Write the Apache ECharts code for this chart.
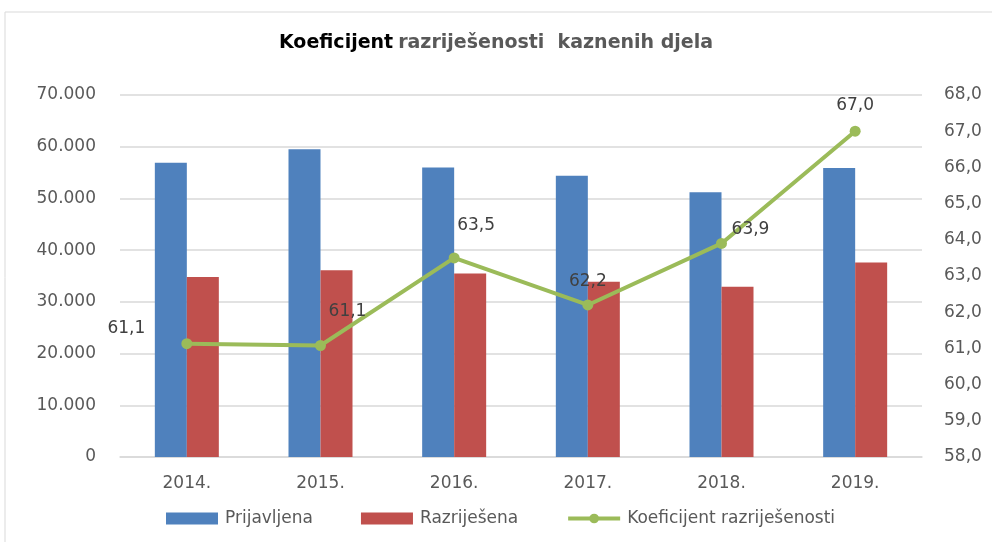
<!DOCTYPE html>
<html>
<head>
<meta charset="utf-8">
<script src="https://cdn.jsdelivr.net/npm/echarts@6/dist/echarts.min.js"></script>
<style>
    html, body { margin: 0; padding: 0; background: #fff; }
    #chart { width: 992px; height: 542px; }
</style>
</head>
<body>
<div id="chart"></div>
<script>
// podaci
const years = ['2014.', '2015.', '2016.', '2017.', '2018.', '2019.']
const prijavljena = [56900, 59500, 56000, 54400, 51200, 55900]
const razrijesena = [34800, 36100, 35500, 33900, 32900, 37600]
const koeficijent = [61.13, 61.08, 63.5, 62.2, 63.9, 67.0]

// pomaci oznaka na liniji
const labelOffsets = [[-22, -15], [27, -6], [22, -4], [0, 5], [29, 14], [0, 2]]
const labelPositions = ['left', 'top', 'top', 'top', 'top', 'top']

const font = 'DejaVu Sans'
const gray = '#595959'

const fmtThousands = (v) => String(v).replace(/\B(?=(\d{3})+(?!\d))/g, '.')
const fmtComma = (v) => v.toFixed(1).replace('.', ',')

const chart = echarts.init(document.getElementById('chart'))

const option = {
    animation: false,
    backgroundColor: '#fff',
    graphic: [
        {
            type: 'rect',
            shape: { x: 5, y: 12, width: 1000, height: 540 },
            style: { fill: 'none', stroke: '#d9d9d9', lineWidth: 1 },
            silent: true,
        },
    ],
    title: {
        text: '{a|Koeficijent} {b|razriješenosti  kaznenih djela}',
        left: 'center',
        top: 29,
        textStyle: {
            rich: {
                a: { fontFamily: font, fontSize: 19, fontWeight: 'bold', color: '#000' },
                b: { fontFamily: font, fontSize: 19, fontWeight: 'bold', color: gray },
            },
        },
    },
    legend: {
        bottom: 10,
        left: 161,
        itemWidth: 52,
        itemHeight: 12,
        itemGap: 48,
        textStyle: { fontFamily: font, fontSize: 17, color: gray, padding: [0, 0, 0, 2] },
        data: [
            { name: 'Prijavljena', icon: 'rect' },
            { name: 'Razriješena', icon: 'rect' },
            { name: 'Koeficijent razriješenosti', lineStyle: { width: 4 } },
        ],
    },
    grid: {
        left: 120,
        right: 70,
        top: 95,
        bottom: 85,
    },
    xAxis: {
        type: 'category',
        data: years,
        axisLine: { lineStyle: { color: '#d9d9d9', width: 1.5 } },
        axisTick: { show: false },
        axisLabel: { fontFamily: font, fontSize: 17, color: gray, margin: 18 },
    },
    yAxis: [
        {
            type: 'value',
            min: 0,
            max: 70000,
            interval: 10000,
            axisLine: { show: false },
            axisTick: { show: false },
            splitLine: { lineStyle: { color: '#d9d9d9', width: 1.5 } },
            axisLabel: { fontFamily: font, fontSize: 17, color: gray, margin: 24, formatter: fmtThousands },
        },
        {
            type: 'value',
            min: 58,
            max: 68,
            interval: 1,
            axisLine: { show: false },
            axisTick: { show: false },
            splitLine: { show: false },
            axisLabel: { fontFamily: font, fontSize: 17, color: gray, margin: 22, formatter: fmtComma },
        },
    ],
    series: [
        {
            name: 'Prijavljena',
            type: 'bar',
            data: prijavljena,
            barWidth: 32,
            barGap: '0%',
            itemStyle: { color: '#4f81bd' },
        },
        {
            name: 'Razriješena',
            type: 'bar',
            data: razrijesena,
            barWidth: 32,
            barGap: '0%',
            itemStyle: { color: '#c0504d' },
        },
        {
            name: 'Koeficijent razriješenosti',
            type: 'line',
            yAxisIndex: 1,
            data: koeficijent.map((v, i) => ({
                value: v,
                label: { position: labelPositions[i], offset: labelOffsets[i] },
            })),
            symbol: 'circle',
            symbolSize: 11,
            lineStyle: { color: '#9bbb59', width: 4 },
            itemStyle: { color: '#9bbb59' },
            label: {
                show: true,
                fontFamily: font,
                fontSize: 17,
                color: '#404040',
                distance: 14,
                formatter: (p) => fmtComma(p.value),
            },
        },
    ],
}

chart.setOption(option)
</script>
</body>
</html>
